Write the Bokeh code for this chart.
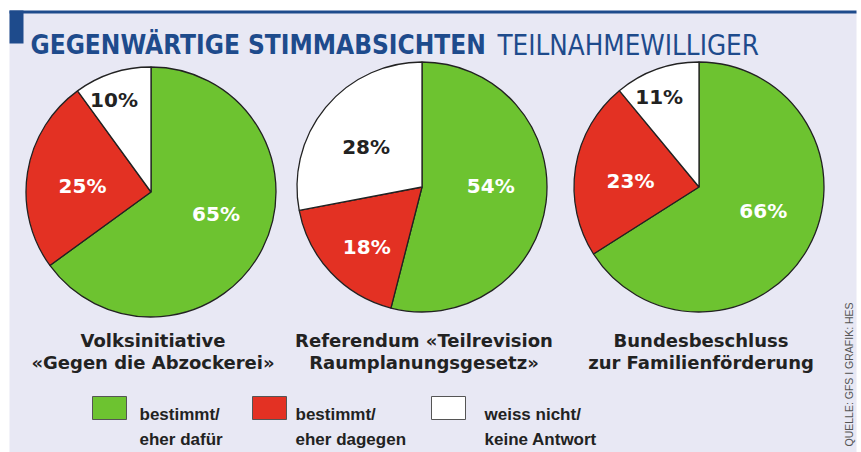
import math
from bokeh.plotting import figure
from bokeh.models import Range1d
from bokeh.core.properties import value
from bokeh.embed import file_html
from bokeh.resources import INLINE

# ---------------- data ----------------
title_bold = "GEGENWÄRTIGE STIMMABSICHTEN"
title_light = "TEILNAHMEWILLIGER"
source = "QUELLE: GFS I GRAFIK: HES"

categories = ["bestimmt/\neher dafür", "bestimmt/\neher dagegen", "weiss nicht/\nkeine Antwort"]
votes = ["Volksinitiative\n«Gegen die Abzockerei»",
         "Referendum «Teilrevision\nRaumplanungsgesetz»",
         "Bundesbeschluss\nzur Familienförderung"]
dafuer = [65, 54, 66]
dagegen = [25, 18, 23]
weiss_nicht = [10, 28, 11]

# ---------------- style / layout ----------------
W, H = 861, 452
def Y(py):
    return H - py

GREEN = "#6DC330"
RED = "#E33123"
WHITE = "#FFFFFF"
BLUE = "#1E4B8C"
PANEL = "#E8E8F4"
DARK = "#222222"
colors = [GREEN, RED, WHITE]
label_colors = ["white", "white", DARK]

pie_centers = [(150.5, 191.5), (421.5, 186.5), (698.5, 186.5)]
pie_radius = 125

p = figure(width=W, height=H, output_backend="svg", toolbar_location=None,
           x_range=Range1d(0, W), y_range=Range1d(0, H),
           min_border=0, x_axis_location=None, y_axis_location=None)
p.grid.visible = False
p.outline_line_color = None
p.background_fill_color = "white"
p.border_fill_color = "white"

# panel background, top rule and title block
p.quad(left=[9], right=[856], bottom=[0], top=[Y(12)], fill_color=PANEL, line_color=None)
p.quad(left=[9], right=[856], bottom=[Y(13)], top=[Y(10)], fill_color=BLUE, line_color=None)
p.quad(left=[9], right=[23], bottom=[Y(43)], top=[Y(10)], fill_color=BLUE, line_color=None)

TITLE_FONT = "DejaVu Sans Condensed"
p.text(x=[30], y=[Y(44)], text=[title_bold], text_font=value(TITLE_FONT),
       text_font_size="26px", text_font_style="bold", text_color=BLUE,
       text_baseline="alphabetic", text_align="left")
p.text(x=[497], y=[Y(44)], text=[title_light], text_font=value(TITLE_FONT),
       text_font_size="27.5px", text_font_style="normal", text_color=BLUE,
       text_baseline="alphabetic", text_align="left")

# pies
series = [dafuer, dagegen, weiss_nicht]
for i, (cx, cy) in enumerate(pie_centers):
    vals = [s[i] for s in series]
    total = float(sum(vals))
    cum = 0.0
    for j, v in enumerate(vals):
        share = v / total
        a0 = math.pi / 2 - 2 * math.pi * cum
        a1 = math.pi / 2 - 2 * math.pi * (cum + share)
        p.wedge(x=[cx], y=[Y(cy)], radius=pie_radius, radius_units="screen",
                start_angle=a0, end_angle=a1, direction="clock",
                fill_color=colors[j], line_color=DARK, line_width=1.3)
        mid = 2 * math.pi * (cum + share / 2) - math.radians(8 if share >= 0.5 else 4)
        if share < 0.15:
            frac = 0.79
        elif share < 0.22:
            frac = 0.65
        else:
            frac = 0.55
        lx = cx + math.sin(mid) * pie_radius * frac
        ly = cy - math.cos(mid) * pie_radius * frac
        p.text(x=[lx], y=[Y(ly)], text=[f"{v}%"], text_font=value("DejaVu Sans"),
               text_font_size="20px", text_font_style="bold", text_color=label_colors[j],
               text_align="center", text_baseline="middle")
        cum += share
    # caption under each pie
    for k, line in enumerate(votes[i].split("\n")):
        p.text(x=[cx + 2], y=[Y(340 + 22 * k)], text=[line], text_font=value("DejaVu Sans"),
               text_font_size="18px", text_font_style="bold", text_color=DARK,
               text_align="center", text_baseline="alphabetic")

# legend
legend_box_x = [92, 252, 431]
legend_text_x = [139, 295, 484]
for j, cat in enumerate(categories):
    bx = legend_box_x[j]
    p.quad(left=[bx], right=[bx + 34], bottom=[Y(419)], top=[Y(396)],
           fill_color=colors[j], line_color="#555555", line_width=1)
    for k, line in enumerate(cat.split("\n")):
        p.text(x=[legend_text_x[j]], y=[Y(414 + 25 * k)], text=[line],
               text_font=value("Liberation Sans"), text_font_size="17px",
               text_font_style="bold", text_color=DARK,
               text_align="left", text_baseline="alphabetic")

# source, vertical
p.text(x=[848], y=[Y(446)], text=[source], angle=math.pi / 2,
       text_font=value("Liberation Sans"), text_font_size="10.5px",
       text_color="#555555", text_align="left", text_baseline="middle")

open("out.html", "w").write(file_html(p, INLINE))
